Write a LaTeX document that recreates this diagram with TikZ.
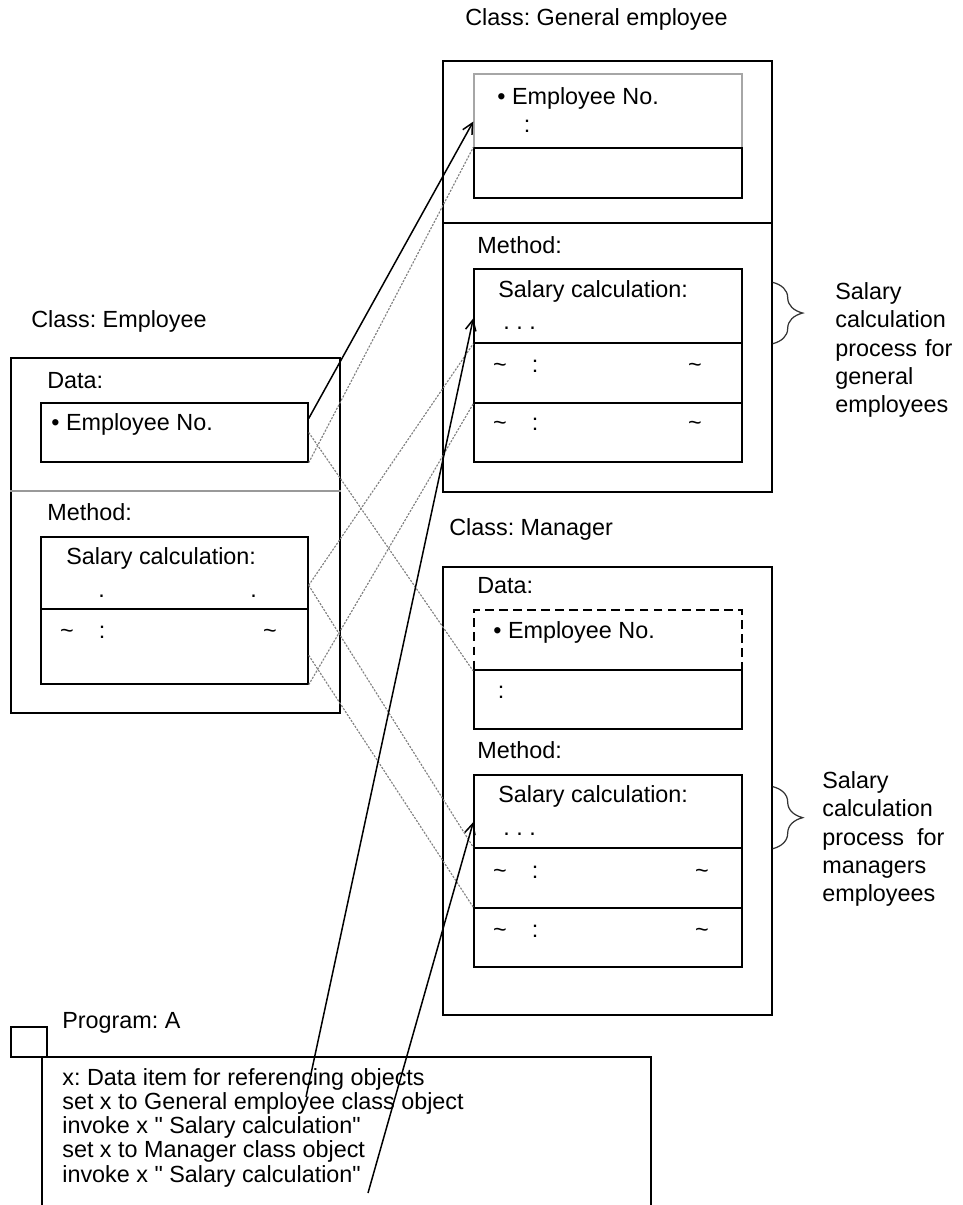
\documentclass[tikz,border=0pt]{standalone}
\usepackage{fontspec}
\setmainfont{Liberation Sans}
\frenchspacing
\usetikzlibrary{arrows.meta, positioning, fit, calc, decorations.pathreplacing}
\tikzset{
  % plain text label
  lbl/.style={anchor=west,inner sep=0pt,font=\fontsize{13.3}{14}\selectfont,
              text height=1.6ex,text depth=0.4ex},
  % single marks (~ and :)
  mrk/.style={lbl,anchor=center},
  % dots sitting on the baseline
  dotm/.style={anchor=base west,inner sep=0pt,font=\fontsize{13.3}{14}\selectfont},
  % side notes
  note/.style={anchor=west,inner sep=0pt,align=left,text width=#1,
               font=\fontsize{13.3}{16.2}\selectfont},
  note/.default=2.34cm,
  % rectangles
  box/.style={draw,line width=0.8pt,inner sep=0pt},
  % grey reference lines
  ref/.style={draw=gray,line width=0.65pt,dash pattern=on 1.2pt off 0.8pt},
  % solid call arrows
  call/.style={-{Straight Barb[length=6pt,width=6pt]},line width=0.85pt},
  % braces
  brc/.style={decorate,decoration={brace,amplitude=6mm},draw=black!80,line width=0.7pt},
}
\begin{document}
\begin{tikzpicture}[x=0.02cm,y=-0.02cm]
  \useasboundingbox (0,0) rectangle (963,1205);

  % Class: Employee
  \node[lbl] (ecap) at (31,322) {Class: Employee};
  \node[box,fit={(11,358)(340,713)}] (emp) {};
  \draw[draw=gray!80,line width=0.6pt] (emp.west |- 0,491) coordinate (esep)
        -- (emp.east |- esep);
  \node[lbl] (edata) at (47,383) {Data:};
  \node[box,fit={(41,403)(308,462)}] (empdata) {};
  \node[lbl] (eno) at (51,425) {\textbullet{} Employee No.};
  \node[lbl] (emeth) at (47,515) {Method:};
  \node[box,fit={(41,537)(308,609)}] (empsal) {};
  \node[box,fit={(41,609)(308,684)}] (emprow) {};
  \node[lbl] (esalt) at (66,559) {Salary calculation:};
  \node[dotm] (edot1) at (98,597) {.};
  \node[dotm] (edot2) at (250,597) {.};
  \node[mrk] (er1) at (67,633) {\textasciitilde};
  \node[mrk] (er2) at (102,633) {:};
  \node[mrk] (er3) at (270,633) {\textasciitilde};

  % Class: General employee
  \node[lbl] (gcap) at (465,20) {Class: General employee};
  \node[box,fit={(443,61)(772,492)}] (gen) {};
  \draw[line width=0.8pt] (gen.west |- 0,223) coordinate (gsep) -- (gen.east |- gsep);
  \node[box,draw=gray!70,fit={(474,74)(742,148)}] (gdtop) {};
  \node[box,fit={(474,148)(742,198)}] (gdlow) {};
  \node[lbl] (gno) at (497,99) {\textbullet{} Employee No.};
  \node[mrk] (gcol) at (527,127) {:};
  \node[lbl] (gmeth) at (477,248) {Method:};
  \node[box,fit={(474,269)(742,343)}] (gsal) {};
  \node[box,fit={(474,343)(742,403)}] (grow1) {};
  \node[box,fit={(474,403)(742,462)}] (grow2) {};
  \node[lbl] (gsalt) at (498,292) {Salary calculation:};
  \node[dotm] (gdots) at (503,329) {. . .};
  \foreach \yy/\nm in {367/ga,425/gb}{
    \node[mrk] (\nm1) at (500,\yy) {\textasciitilde};
    \node[mrk] (\nm2) at (535,\yy) {:};
    \node[mrk] (\nm3) at (695,\yy) {\textasciitilde};
  }
  \draw[brc] ([yshift=-8pt]gen.east |- gsal.north) -- (gen.east |- gsal.south);
  \node[note=2.34cm] (gnote) at (835,350)
        {Salary\\calculation\\process\hfill for\\general\\employees};

  % Class: Manager
  \node[lbl] (mcap) at (449,530) {Class: Manager};
  \node[box,fit={(443,567)(772,1015)}] (mgr) {};
  \node[lbl] (mdata) at (477,588) {Data:};
  \node[box,line width=1pt,dash pattern=on 5pt off 3pt,fit={(474,610)(742,670)}] (mdash) {};
  \node[box,fit={(474,670)(742,729)}] (mlow) {};
  \node[lbl] (mno) at (493,633) {\textbullet{} Employee No.};
  \node[mrk] (mcol) at (501,693) {:};
  \node[lbl] (mmeth) at (477,753) {Method:};
  \node[box,fit={(474,775)(742,848)}] (msal) {};
  \node[box,fit={(474,848)(742,908)}] (mrow1) {};
  \node[box,fit={(474,908)(742,967)}] (mrow2) {};
  \node[lbl] (msalt) at (498,797) {Salary calculation:};
  \node[dotm] (mdots) at (503,835) {. . .};
  \foreach \yy/\nm in {873/ma,932/mb}{
    \node[mrk] (\nm1) at (500,\yy) {\textasciitilde};
    \node[mrk] (\nm2) at (535,\yy) {:};
    \node[mrk] (\nm3) at (702,\yy) {\textasciitilde};
  }
  \draw[brc] ([yshift=-7pt]mgr.east |- msal.north) -- (mgr.east |- msal.south);
  \node[note=2.44cm] (mnote) at (822,839)
        {Salary\\calculation\\process\hfill for\\managers\\employees};

  % Program: A
  \node[lbl] (pcap) at (62,1023) {Program: A};
  \node[box,fit={(42,1057)(651,1240)}] (prog) {};
  \node[box,fill=white,fit={(11,1027)(47,1057)}] (ptab) {};
  \foreach \i/\yy/\t in {1/1080/{x: Data item for referencing objects},
                         2/1104/{set x to General employee class object},
                         3/1128/{invoke x \textquotedbl{} Salary calculation\textquotedbl},
                         4/1152/{set x to Manager class object},
                         5/1177/{invoke x \textquotedbl{} Salary calculation\textquotedbl}}
    \node[lbl] (p\i) at (62,\yy) {\t};

  % references from Employee to the subclasses
  \draw[ref] (empdata.south east) -- (gdlow.north west);
  \draw[ref] (empdata.east) -- (mdash.south west);
  \draw[ref] ([yshift=-7pt]empsal.east) -- (gsal.south west);
  \draw[ref] ([yshift=-7pt]empsal.east) -- (mrow1.north west);
  \draw[ref] (emprow.south east) -- (grow1.south west);
  \draw[ref] ([yshift=-5pt]emprow.east) -- (mrow2.north west);
  \draw[call] ([yshift=8pt]empdata.east) -- ([yshift=-6pt]gdtop.west);

  % calls from the program
  \coordinate (srcA) at (306,1097);
  \coordinate (srcB) at (368,1193);
  \draw[call] (srcA) -- ([yshift=-7pt]gsal.west);
  \draw[call] (srcB) -- ([yshift=-6pt]msal.west);
\end{tikzpicture}
\end{document}
